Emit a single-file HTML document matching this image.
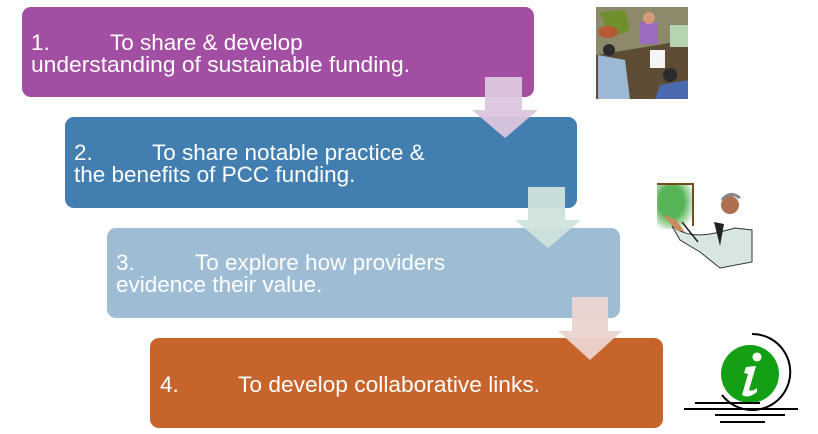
<!DOCTYPE html>
<html><head><style>
html,body{margin:0;padding:0;background:#fff;}
svg{display:block}
text{font-family:"Liberation Sans",Arial,sans-serif;font-size:22.5px;fill:#fff;}
</style></head><body>
<svg width="818" height="434" viewBox="0 0 818 434" xmlns="http://www.w3.org/2000/svg">
<defs>
<radialGradient id="gb" cx="0.4" cy="0.4" r="0.7"><stop offset="0.5" stop-color="#56b456"/><stop offset="1" stop-color="#56b456" stop-opacity="0"/></radialGradient>
</defs>
<rect x="22" y="7" width="512" height="90" rx="9" fill="#a24ea2"/>
<rect x="65" y="117" width="512" height="91" rx="9" fill="#427eaf"/>
<rect x="107" y="228" width="513" height="90" rx="9" fill="#9ebdd4"/>
<rect x="150" y="338" width="513" height="90" rx="9" fill="#c6642c"/>
<path d="M485 77 H522 V110 H538 L505 138 L472 110 H485 Z" fill="#dcc6de" opacity="0.95"/>
<path d="M528 187 H565 V220 H581 L548 248 L515 220 H528 Z" fill="#cfe3dc" opacity="0.95"/>
<path d="M572 297 H608 V331 H622 L590 360 L558 331 H572 Z" fill="#ebd4cf" opacity="0.95"/>
<text x="31" y="50">1.</text><text x="110" y="50">To share &amp; develop</text>
<text x="31" y="72" textLength="379" lengthAdjust="spacingAndGlyphs">understanding of sustainable funding.</text>
<text x="74" y="160">2.</text><text x="152" y="160">To share notable practice &amp;</text>
<text x="74" y="182">the benefits of PCC funding.</text>
<text x="116" y="270">3.</text><text x="195" y="270">To explore how providers</text>
<text x="116" y="292">evidence their value.</text>
<text x="160" y="392">4.</text><text x="238" y="392" textLength="302" lengthAdjust="spacingAndGlyphs">To develop collaborative links.</text>
<!-- meeting clipart -->
<rect x="596" y="7" width="92" height="92" fill="#8d8a6c"/>
<path d="M596 55 L688 40 L688 99 L596 99 Z" fill="#5e4c34"/>
<path d="M600 12 L625 10 L630 30 L610 38 Z" fill="#6f8f2c"/>
<ellipse cx="608" cy="32" rx="10" ry="6" fill="#b65a34"/>
<rect x="640" y="22" width="18" height="22" fill="#9b6cc0"/>
<circle cx="649" cy="18" r="6" fill="#d49a7a"/>
<rect x="670" y="25" width="18" height="22" fill="#b6d4b0"/>
<path d="M598 55 L625 60 L630 99 L598 99 Z" fill="#9cb8d4"/>
<circle cx="609" cy="50" r="6" fill="#2c2c2c"/>
<rect x="650" y="50" width="15" height="18" fill="#f4f4f4"/>
<path d="M660 85 L688 80 L688 99 L655 99 Z" fill="#4a6ab0"/>
<circle cx="670" cy="75" r="7" fill="#2c2c2c"/>
<!-- teacher -->
<rect x="657" y="184" width="36" height="45" fill="url(#gb)"/>
<path d="M657 184 H693 V226" fill="none" stroke="#7a4a1c" stroke-width="2"/>
<path d="M672 226 C690 240 710 235 735 228 L752 230 L752 262 L720 268 L700 252 L680 240 Z" fill="#d8e6e0" stroke="#333" stroke-width="1"/>
<path d="M662 214 L676 230 L685 232 L676 220 Z" fill="#c98b5c"/>
<circle cx="730" cy="205" r="9" fill="#b07050"/>
<path d="M722 200 Q730 190 740 198" fill="none" stroke="#888" stroke-width="3"/>
<path d="M714 222 L720 246 L724 224 Z" fill="#222"/>
<line x1="682" y1="222" x2="698" y2="242" stroke="#222" stroke-width="1.5"/>
<!-- info icon -->
<path d="M752 334 A38 38 0 1 1 722 395" fill="none" stroke="#000" stroke-width="2"/>
<circle cx="750" cy="374" r="29" fill="#14a014"/>
<circle cx="757" cy="357" r="4.5" fill="#fff"/>
<path d="M746 367 L756 366 L749 390 Q752 392 757 388 L757 392 Q748 399 742 395 L748 374 L744 373 Z" fill="#fff"/>
<line x1="684" y1="409" x2="798" y2="409" stroke="#000" stroke-width="2"/>
<line x1="695" y1="403" x2="760" y2="403" stroke="#000" stroke-width="2"/>
<line x1="715" y1="415" x2="785" y2="415" stroke="#000" stroke-width="2"/>
<line x1="720" y1="422" x2="765" y2="422" stroke="#000" stroke-width="2"/>
</svg>
</body></html>
